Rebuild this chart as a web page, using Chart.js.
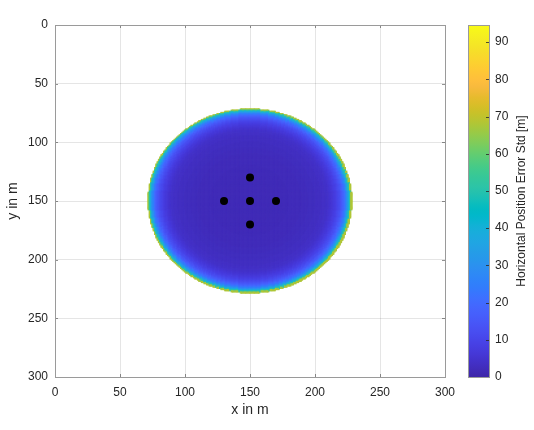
<!DOCTYPE html>
<html><head><meta charset="utf-8">
<script src="https://cdn.jsdelivr.net/npm/chart.js@4.4.0/dist/chart.umd.min.js"></script>
<style>
html,body{margin:0;padding:0;background:#fff;}
#wrap{position:relative;width:534px;height:430px;overflow:hidden;}
#main{position:absolute;left:0;top:0;}
#cbar{position:absolute;left:440px;top:0;}
</style></head><body>
<div id="wrap"><canvas id="main" width="534" height="430"></canvas><canvas id="cbar" width="94" height="430"></canvas></div>
<script>
// ---------------- data ----------------
// anchor / reference station positions (m)
const anchorX = [150, 130, 150, 170, 150];
const anchorY = [130, 150, 150, 150, 170];
// coverage area centre and radius (m)
const coverageCenterX = 150;
const coverageCenterY = 150;
const coverageRadius = 78;
// horizontal position error std [m], by distance (m) from the centre, 0..78
const profileStd = [
  1.8,1.8,1.8,1.8,1.8,1.8,1.8,1.8,1.8,1.8,
  1.8,1.9,1.9,1.9,1.9,1.9,1.9,1.9,1.9,1.9,
  1.9,2.0,2.0,2.0,2.0,2.0,2.0,2.0,2.0,2.0,
  2.0,2.2,2.2,2.2,2.2,2.2,2.2,2.2,2.2,2.2,
  2.2,2.5,2.5,2.5,2.5,2.5,2.8,2.8,2.8,2.8,
  2.8,3.2,3.2,3.2,3.2,3.2,3.7,3.7,3.7,4.2,
  4.2,4.7,5.2,5.8,6.5,7.3,8.2,9.2,10.4,11.8,
  13.5,15.5,18,21,25,30,38,50,68
];
// axis ticks
const xTicks = [0, 50, 100, 150, 200, 250, 300];
const yTicks = [0, 50, 100, 150, 200, 250, 300];
const cbarTicks = [0, 10, 20, 30, 40, 50, 60, 70, 80, 90];
const cbarMax = 94.6;

// parula colormap (64 entries)
const PARULA = [
[0.2422,0.1504,0.6603],[0.2504,0.1650,0.7076],[0.2578,0.1818,0.7511],[0.2647,0.1978,0.7952],
[0.2706,0.2147,0.8364],[0.2751,0.2342,0.8710],[0.2783,0.2559,0.8991],[0.2803,0.2782,0.9221],
[0.2813,0.3006,0.9414],[0.2810,0.3228,0.9579],[0.2795,0.3447,0.9717],[0.2760,0.3667,0.9829],
[0.2699,0.3892,0.9906],[0.2602,0.4123,0.9952],[0.2440,0.4358,0.9988],[0.2206,0.4603,0.9973],
[0.1963,0.4847,0.9892],[0.1834,0.5074,0.9798],[0.1786,0.5289,0.9682],[0.1764,0.5499,0.9520],
[0.1687,0.5703,0.9359],[0.1540,0.5902,0.9218],[0.1460,0.6091,0.9079],[0.1380,0.6276,0.8973],
[0.1248,0.6459,0.8883],[0.1113,0.6635,0.8763],[0.0952,0.6798,0.8598],[0.0689,0.6948,0.8394],
[0.0297,0.7082,0.8163],[0.0036,0.7203,0.7917],[0.0067,0.7312,0.7660],[0.0433,0.7411,0.7394],
[0.0964,0.7500,0.7120],[0.1408,0.7584,0.6842],[0.1717,0.7670,0.6554],[0.1938,0.7758,0.6251],
[0.2161,0.7843,0.5923],[0.2470,0.7918,0.5567],[0.2906,0.7973,0.5188],[0.3406,0.8008,0.4789],
[0.3909,0.8029,0.4354],[0.4456,0.8024,0.3909],[0.5044,0.7993,0.3480],[0.5616,0.7942,0.3045],
[0.6174,0.7876,0.2612],[0.6720,0.7793,0.2227],[0.7242,0.7698,0.1910],[0.7738,0.7598,0.1646],
[0.8203,0.7498,0.1535],[0.8634,0.7406,0.1596],[0.9035,0.7330,0.1774],[0.9393,0.7288,0.2100],
[0.9728,0.7298,0.2394],[0.9956,0.7434,0.2371],[0.9970,0.7659,0.2199],[0.9952,0.7893,0.2028],
[0.9892,0.8136,0.1885],[0.9786,0.8386,0.1766],[0.9676,0.8639,0.1643],[0.9610,0.8890,0.1537],
[0.9597,0.9135,0.1423],[0.9628,0.9373,0.1265],[0.9691,0.9606,0.1064],[0.9769,0.9839,0.0805]];
function rgbOf(c){return 'rgb('+Math.round(c[0]*255)+','+Math.round(c[1]*255)+','+Math.round(c[2]*255)+')';}
function parulaColor(v){
  let t = Math.max(0, Math.min(1, v / cbarMax)) * (PARULA.length - 1);
  const i = Math.min(PARULA.length - 2, Math.floor(t)); const f = t - i;
  const a = PARULA[i], b = PARULA[i + 1];
  return rgbOf([a[0]+(b[0]-a[0])*f, a[1]+(b[1]-a[1])*f, a[2]+(b[2]-a[2])*f]);
}

// grid cells (1 m) inside the coverage circle, value taken from profile
const cells = [], cellColors = [];
for (let gx = 0; gx <= 300; gx++) {
  for (let gy = 0; gy <= 300; gy++) {
    const d = Math.hypot(gx - coverageCenterX, gy - coverageCenterY);
    if (d <= coverageRadius + 0.4) {
      const v = profileStd[Math.min(profileStd.length - 1, Math.round(d))];
      cells.push({x: gx, y: gy});
      cellColors.push(parulaColor(v));
    }
  }
}

const FONT = "'Liberation Sans', Arial, Helvetica, sans-serif";
const TXT = '#262626';
const BOX = '#9a9a9a';

const boxPlugin = {
  id: 'box',
  afterDraw(chart) {
    const {ctx, chartArea: a, scales} = chart;
    ctx.save();
    ctx.strokeStyle = '#262626'; ctx.lineWidth = 1;
    ctx.beginPath();
    xTicks.forEach(v => { const p = Math.round(scales.x.getPixelForValue(v)) + 0.5;
      ctx.moveTo(p, a.bottom); ctx.lineTo(p, a.bottom - 3); ctx.moveTo(p, a.top); ctx.lineTo(p, a.top + 3); });
    yTicks.forEach(v => { const p = Math.round(scales.y.getPixelForValue(v)) + 0.5;
      ctx.moveTo(a.left, p); ctx.lineTo(a.left + 3, p); ctx.moveTo(a.right, p); ctx.lineTo(a.right - 3, p); });
    ctx.globalAlpha = 0.5; ctx.stroke(); ctx.globalAlpha = 1;
    ctx.strokeStyle = BOX;
    ctx.strokeRect(Math.round(a.left) + 0.5, Math.round(a.top) + 0.5, Math.round(a.right - a.left), Math.round(a.bottom - a.top));
    ctx.restore();
  }
};

new Chart(document.getElementById('main'), {
  type: 'scatter',
  data: { datasets: [
    { label: 'anchors', data: anchorX.map((x, i) => ({x: x, y: anchorY[i]})), pointRadius: 4, pointStyle: 'circle',
      backgroundColor: '#000', borderWidth: 0, order: 0 },
    { label: 'Horizontal Position Error Std', data: cells, pointStyle: 'rect', pointRadius: 1.6,
      backgroundColor: cellColors, borderWidth: 0, order: 1 }
  ]},
  options: {
    responsive: false, animation: false, events: [],
    layout: {padding: {top: 25, right: 89, left: 0, bottom: 0}},
    plugins: {legend: {display: false}, tooltip: {enabled: false}},
    scales: {
      x: { type: 'linear', position: 'bottom', min: 0, max: 300, z: 1,
        afterBuildTicks: s => { s.ticks = xTicks.map(v => ({value: v})); },
        ticks: {color: TXT, font: {family: FONT, size: 12}, padding: 8, maxRotation: 0},
        grid: {color: 'rgba(38,38,38,0.12)', drawTicks: false},
        border: {display: false},
        title: {display: true, text: 'x in m', color: TXT, font: {family: FONT, size: 14}, padding: {top: 0, bottom: 11}},
        afterFit: s => { s.height = 53; } },
      y: { type: 'linear', position: 'left', reverse: true, min: 0, max: 300, z: 1,
        afterBuildTicks: s => { s.ticks = yTicks.map(v => ({value: v})); },
        ticks: {color: TXT, font: {family: FONT, size: 12}, padding: 7},
        grid: {color: 'rgba(38,38,38,0.12)', drawTicks: false},
        border: {display: false},
        title: {display: true, text: 'y in m', color: TXT, font: {family: FONT, size: 14}, padding: {top: 5, bottom: 0}},
        afterFit: s => { s.width = 55; } }
    }
  },
  plugins: [boxPlugin]
});

function cbarGradient(chart) {
  const a = chart.chartArea;
  if (!a) return parulaColor(cbarMax / 2);
  const g = chart.ctx.createLinearGradient(0, a.bottom, 0, a.top);
  PARULA.forEach((c, i) => g.addColorStop(i / (PARULA.length - 1), rgbOf(c)));
  return g;
}
const cbarPlugin = {
  id: 'cbarDeco',
  afterDraw(chart) {
    const {ctx, chartArea: a, scales} = chart;
    ctx.save();
    ctx.strokeStyle = '#262626'; ctx.lineWidth = 1; ctx.globalAlpha = 0.8;
    ctx.beginPath();
    cbarTicks.forEach(v => { const p = Math.round(scales.y.getPixelForValue(v)) + 0.5;
      ctx.moveTo(a.right, p); ctx.lineTo(a.right - 3, p); });
    ctx.stroke(); ctx.globalAlpha = 1;
    ctx.strokeStyle = BOX;
    ctx.strokeRect(Math.round(a.left) + 0.5, Math.round(a.top) + 0.5, Math.round(a.right - a.left), Math.round(a.bottom - a.top));
    ctx.translate(82, (a.top + a.bottom) / 2);
    ctx.rotate(-Math.PI / 2);
    ctx.fillStyle = TXT; ctx.font = '12px ' + FONT;
    ctx.textAlign = 'center'; ctx.textBaseline = 'middle';
    ctx.fillText('Horizontal Position Error Std [m]', 0, 0);
    ctx.restore();
  }
};
new Chart(document.getElementById('cbar'), {
  type: 'bar',
  data: { labels: [''], datasets: [{ data: [[0, cbarMax]], backgroundColor: ctx => cbarGradient(ctx.chart),
    borderWidth: 0, barPercentage: 1, categoryPercentage: 1 }]},
  options: {
    responsive: false, animation: false, events: [],
    layout: {padding: {left: 28, top: 25, bottom: 53, right: 0}},
    plugins: {legend: {display: false}, tooltip: {enabled: false}},
    scales: {
      x: {display: false},
      y: { position: 'right', min: 0, max: cbarMax,
        afterBuildTicks: s => { s.ticks = cbarTicks.map(v => ({value: v})); },
        ticks: {color: TXT, font: {family: FONT, size: 12}, padding: 6},
        grid: {display: false, drawTicks: false, drawOnChartArea: false},
        border: {display: false},
        afterFit: s => { s.width = 45; } }
    }
  },
  plugins: [cbarPlugin]
});
</script>
</body></html>
